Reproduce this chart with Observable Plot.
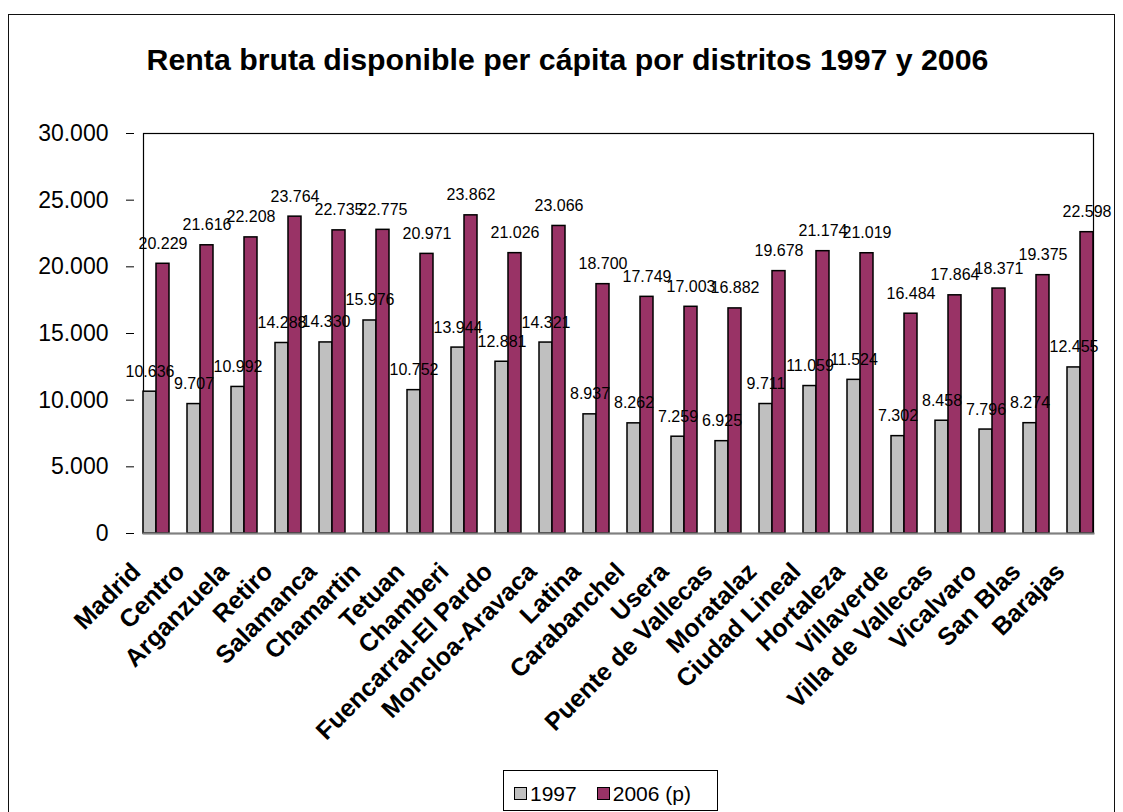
<!DOCTYPE html>
<html>
<head>
<meta charset="utf-8">
<script src="https://cdn.jsdelivr.net/npm/d3@7"></script>
<script src="https://cdn.jsdelivr.net/npm/@observablehq/plot@0.6"></script>
<style>
  html, body { margin: 0; padding: 0; background: #fff; width: 1123px; height: 812px; overflow: hidden; }
  body { position: relative; font-family: "Liberation Sans", Arial, sans-serif; }
  #border { position: absolute; left: 8px; top: 14px; width: 1107px; height: 820px; border: 1.5px solid #111; box-sizing: border-box; }
  #title { position: absolute; left: 14px; width: 1107px; top: 45px; text-align: center; font-size: 30.3px; font-weight: bold; line-height: 1; color: #000; }
  #chart { position: absolute; left: 0; top: 0; }
  #legend { position: absolute; left: 503px; top: 770px; width: 215px; height: 41px; border: 1px solid #000; box-sizing: border-box; display: flex; align-items: center; justify-content: flex-start; padding-left: 10px; padding-top: 6px; gap: 20px; font-size: 21px; background: #fff; }
  .item { display: flex; align-items: center; gap: 3px; }
  .sw { width: 11px; height: 11px; border: 1px solid #000; }
</style>
</head>
<body>
<div id="border"></div>
<div id="title">Renta bruta disponible per cápita por distritos 1997 y 2006</div>
<div id="chart"></div>
<div id="legend"></div>
<script>
const districts = ["Madrid", "Centro", "Arganzuela", "Retiro", "Salamanca", "Chamartin", "Tetuan", "Chamberi", "Fuencarral-El Pardo", "Moncloa-Aravaca", "Latina", "Carabanchel", "Usera", "Puente de Vallecas", "Moratalaz", "Ciudad Lineal", "Hortaleza", "Villaverde", "Villa de Vallecas", "Vicalvaro", "San Blas", "Barajas"];
const values1997 = [10636, 9707, 10992, 14288, 14330, 15976, 10752, 13944, 12881, 14321, 8937, 8262, 7259, 6925, 9711, 11059, 11524, 7302, 8458, 7796, 8274, 12455];
const values2006 = [20229, 21616, 22208, 23764, 22735, 22775, 20971, 23862, 21026, 23066, 18700, 17749, 17003, 16882, 19678, 21174, 21019, 16484, 17864, 18371, 19375, 22598];
const seriesNames = ["1997", "2006 (p)"];
const seriesColors = ["#C0C0C0", "#993366"];
const yTicks = [0, 5000, 10000, 15000, 20000, 25000, 30000];

const rows = districts.flatMap((d, i) => [
  {district: d, series: seriesNames[0], value: values1997[i]},
  {district: d, series: seriesNames[1], value: values2006[i]}
]);

const fmt = d3.formatLocale({decimal: ",", thousands: ".", grouping: [3], currency: ["", " €"]}).format(",d");

const legend = document.getElementById("legend");
seriesNames.forEach((name, i) => {
  const item = document.createElement("div");
  item.className = "item";
  const sw = document.createElement("div");
  sw.className = "sw";
  sw.style.background = seriesColors[i];
  const label = document.createElement("span");
  label.textContent = name;
  item.appendChild(sw);
  item.appendChild(label);
  legend.appendChild(item);
});

const chart = Plot.plot({
  width: 1123,
  height: 760,
  marginLeft: 126,
  marginRight: 12,
  marginTop: 133,
  marginBottom: 227,
  style: {fontFamily: "'Liberation Sans', Arial, sans-serif", background: "transparent", overflow: "visible", color: "#000"},
  fx: {domain: districts, paddingInner: 0.4, paddingOuter: 0.2, label: null},
  x: {domain: seriesNames, padding: 0, axis: null},
  y: {domain: [0, 30000], label: null},
  color: {domain: seriesNames, range: seriesColors},
  marks: [
    Plot.frame({facet: "super", stroke: "#000", strokeWidth: 1.2}),
    Plot.barY(rows, {fx: "district", x: "series", y: "value", fill: "series", stroke: "#000", strokeWidth: 1.5}),
    Plot.frame({facet: "super", anchor: "bottom", stroke: "#808080", strokeWidth: 2}),
    Plot.text(rows, {fx: "district", x: "series", y: "value", text: d => fmt(d.value), lineAnchor: "bottom", dy: -15, fontSize: 16, fill: "#000"}),
    Plot.axisY({ticks: yTicks, tickFormat: fmt, tickSize: 8, tickPadding: 18, dx: -9, fontSize: 23, label: null, stroke: "#000"}),
    Plot.axisFx({anchor: "bottom", tickRotate: -45, tickSize: 0, tickPadding: 34, dx: -20, fontSize: 25, fontWeight: "bold", label: null})
  ]
});
document.getElementById("chart").appendChild(chart);
</script>
</body>
</html>
